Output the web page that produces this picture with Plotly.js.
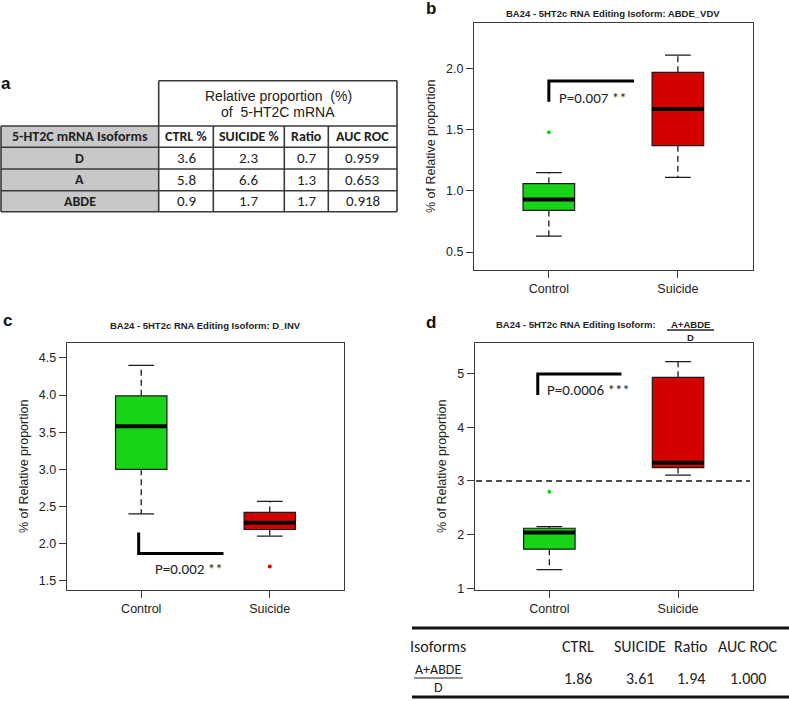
<!DOCTYPE html>
<html>
<head>
<meta charset="utf-8">
<script src="https://cdn.plot.ly/plotly-3.0.1.min.js"></script>
<style>
  html, body { margin: 0; padding: 0; background: #fff; }
  #plot { width: 789px; height: 701px; }
</style>
</head>
<body>
<div id="plot"></div>
<script>
const groups = ['Control', 'Suicide'];
const groupColors = ['#17d417', '#d40000'];

// panel b: ABDE_VDV
const abdeLow = [0.63, 1.11];
const abdeQ1 = [0.84, 1.37];
const abdeMed = [0.93, 1.67];
const abdeQ3 = [1.06, 1.97];
const abdeHigh = [1.15, 2.11];
const abdeOut = [[1.48], []];

// panel c: D_INV
const dinvLow = [2.40, 2.10];
const dinvQ1 = [3.00, 2.19];
const dinvMed = [3.58, 2.28];
const dinvQ3 = [3.99, 2.42];
const dinvHigh = [4.40, 2.57];
const dinvOut = [[], [1.69]];

// panel d: (A+ABDE)/D
const ratioLow = [1.35, 3.11];
const ratioQ1 = [1.73, 3.25];
const ratioMed = [2.04, 3.34];
const ratioQ3 = [2.12, 4.93];
const ratioHigh = [2.15, 5.22];
const ratioOut = [[2.80], []];
const ratioCut = 3;

// p-value brackets: [x start, x end, y at end, y of bar]
const pTexts = ['P=0.007 **', 'P=0.002 **', 'P=0.0006 ***'];
const brackets = [[1.0, 1.66, 1.73, 1.90], [0.98, 1.64, 2.15, 1.865], [0.91, 1.56, 4.60, 4.99]];
const pTextPos = [[1.06, 1.76], [1.09, 1.66], [0.97, 4.70]];

// table a
const isoforms = ['D', 'A', 'ABDE'];
const ctrlPct = [3.6, 5.8, 0.9];
const suicidePct = [2.3, 6.6, 1.7];
const ratios = [0.7, 1.3, 1.7];
const aucRoc = [0.959, 0.653, 0.918];
const tableHead = ['5-HT2C mRNA Isoforms', 'CTRL %', 'SUICIDE %', 'Ratio', 'AUC ROC'];

// table under d
const sumHead = ['Isoforms', 'CTRL', 'SUICIDE', 'Ratio', 'AUC ROC'];
const sumVals = ['1.86', '3.61', '1.94', '1.000'];

const W = 789, H = 701;
const px = x => x / W;
const py = y => 1 - y / H;
const arial = 'Liberation Sans, Arial, sans-serif';
const calibri = 'Carlito, Lato, sans-serif';

function panelTraces(st, xa, ya) {
  const tr = [];
  groups.forEach((g, i) => {
    const pos = i + 1;
    tr.push({
      type: 'box', x: [pos], q1: [st.q1[i]], median: [st.med[i]], q3: [st.q3[i]],
      lowerfence: [st.q1[i]], upperfence: [st.q3[i]], width: 0.4, whiskerwidth: 0,
      fillcolor: groupColors[i], line: {color: '#1a1a1a', width: 1.2},
      xaxis: xa, yaxis: ya, hoverinfo: 'skip', showlegend: false
    });
    tr.push({
      type: 'scatter', mode: 'lines', xaxis: xa, yaxis: ya, hoverinfo: 'skip', showlegend: false,
      x: [pos, pos, null, pos, pos], y: [st.q3[i], st.high[i], null, st.q1[i], st.low[i]],
      line: {color: '#1a1a1a', width: 1.3, dash: '6px,4px'}
    });
    tr.push({
      type: 'scatter', mode: 'lines', xaxis: xa, yaxis: ya, hoverinfo: 'skip', showlegend: false,
      x: [pos - 0.1, pos + 0.1, null, pos - 0.1, pos + 0.1],
      y: [st.high[i], st.high[i], null, st.low[i], st.low[i]],
      line: {color: '#1a1a1a', width: 1.3}
    });
    tr.push({
      type: 'scatter', mode: 'lines', xaxis: xa, yaxis: ya, hoverinfo: 'skip', showlegend: false,
      x: [pos - 0.2, pos + 0.2], y: [st.med[i], st.med[i]],
      line: {color: '#000', width: 4}
    });
    if (st.out[i].length) {
      tr.push({
        type: 'scatter', mode: 'markers', xaxis: xa, yaxis: ya, hoverinfo: 'skip', showlegend: false,
        x: st.out[i].map(() => pos), y: st.out[i],
        marker: {color: groupColors[i], size: 4}
      });
    }
  });
  return tr;
}

function bracketTrace(k, xa, ya) {
  const b = brackets[k];
  return {
    type: 'scatter', mode: 'lines', xaxis: xa, yaxis: ya, hoverinfo: 'skip', showlegend: false,
    x: [b[0], b[0], b[1]], y: [b[2], b[3], b[3]],
    line: {color: '#000', width: 3}
  };
}

const traces = [
  ...panelTraces({low: abdeLow, q1: abdeQ1, med: abdeMed, q3: abdeQ3, high: abdeHigh, out: abdeOut}, 'x', 'y'),
  ...panelTraces({low: dinvLow, q1: dinvQ1, med: dinvMed, q3: dinvQ3, high: dinvHigh, out: dinvOut}, 'x2', 'y2'),
  ...panelTraces({low: ratioLow, q1: ratioQ1, med: ratioMed, q3: ratioQ3, high: ratioHigh, out: ratioOut}, 'x3', 'y3'),
  bracketTrace(0, 'x', 'y'), bracketTrace(1, 'x2', 'y2'), bracketTrace(2, 'x3', 'y3')
];

const axisBase = {
  showline: true, mirror: true, linecolor: '#3a3a3a', linewidth: 1,
  ticks: 'outside', ticklen: 7, tickcolor: '#3a3a3a', tickwidth: 1,
  showgrid: false, zeroline: false, fixedrange: true,
  tickfont: {family: arial, size: 12.5, color: '#222'}
};
const xBase = Object.assign({}, axisBase, {range: [0.42, 2.58], tickvals: [1, 2], ticktext: groups});
const yTitle = {text: '% of Relative proportion', font: {family: arial, size: 12.5, color: '#222'}, standoff: 7};

const layout = {
  width: W, height: H,
  margin: {l: 0, r: 0, t: 0, b: 0},
  paper_bgcolor: '#fff', plot_bgcolor: '#fff',
  showlegend: false,
  xaxis: Object.assign({}, xBase, {domain: [px(474), px(752.7)], anchor: 'y'}),
  yaxis: Object.assign({}, axisBase, {domain: [py(270), py(22.7)], anchor: 'x', range: [0.353, 2.376],
    tickvals: [0.5, 1, 1.5, 2], tickformat: '.1f', title: yTitle}),
  xaxis2: Object.assign({}, xBase, {domain: [px(66.7), px(344.3)], anchor: 'y2'}),
  yaxis2: Object.assign({}, axisBase, {domain: [py(590), py(342.7)], anchor: 'x2', range: [1.375, 4.706],
    dtick: 0.5, tickformat: '.1f', title: yTitle}),
  xaxis3: Object.assign({}, xBase, {domain: [px(474.7), px(752.7)], anchor: 'y3'}),
  yaxis3: Object.assign({}, axisBase, {domain: [py(590), py(342.7)], anchor: 'x3', range: [0.97, 5.574],
    dtick: 1, title: yTitle}),
  shapes: [],
  annotations: []
};

const ann = (text, x, y, opt) => layout.annotations.push(Object.assign({
  text: text, x: px(x), y: py(y), xref: 'paper', yref: 'paper', showarrow: false,
  xanchor: 'center', yanchor: 'middle', font: {family: arial, size: 12, color: '#222'}
}, opt || {}));
const hline = (x0, x1, y, w, c) => layout.shapes.push({type: 'line', xref: 'paper', yref: 'paper',
  x0: px(x0), x1: px(x1), y0: py(y), y1: py(y), line: {color: c || '#3a3a3a', width: w}});
const vline = (x, y0, y1, w, c) => layout.shapes.push({type: 'line', xref: 'paper', yref: 'paper',
  x0: px(x), x1: px(x), y0: py(y0), y1: py(y1), line: {color: c || '#3a3a3a', width: w}});

// panel labels
const labelFont = {family: arial, size: 17, color: '#111', weight: 'bold'};
ann('a', 6, 83, {font: labelFont});
ann('b', 431, 8, {font: labelFont});
ann('c', 7, 320, {font: labelFont});
ann('d', 431, 322, {font: labelFont});

// panel titles
const titleFont = {family: arial, size: 9.5, color: '#222', weight: 'bold'};
ann('BA24 - 5HT2c RNA Editing Isoform: ABDE_VDV', 613, 13, {font: titleFont});
ann('BA24 - 5HT2c RNA Editing Isoform: D_INV', 205.5, 325, {font: titleFont});
ann('BA24 - 5HT2c RNA Editing Isoform:', 658, 324, {font: titleFont, xanchor: 'right'});
ann('A+ABDE', 690.5, 324, {font: titleFont});
hline(667, 714, 330, 1.3, '#222');
ann('D', 690.5, 337, {font: titleFont});

// p-values
const pFont = {family: calibri, size: 15, color: '#222'};
const pAxes = [['x', 'y'], ['x2', 'y2'], ['x3', 'y3']];
pTexts.forEach((t, k) => layout.annotations.push({
  text: t, x: pTextPos[k][0], y: pTextPos[k][1], xref: pAxes[k][0], yref: pAxes[k][1],
  showarrow: false, xanchor: 'left', yanchor: 'middle', font: pFont
}));

// threshold in d
layout.shapes.push({type: 'line', xref: 'x3 domain', yref: 'y3', x0: 0.005, x1: 0.99, y0: ratioCut, y1: ratioCut,
  line: {color: '#111', width: 1.5, dash: '6px,4px'}});

// table a
const colEdges = [1, 158.7, 213.3, 284.3, 328.3, 397];
const rowEdges = [126, 147.3, 169, 190.7, 211.7];
layout.shapes.push({type: 'rect', xref: 'paper', yref: 'paper', layer: 'below',
  x0: px(colEdges[0]), x1: px(colEdges[1]), y0: py(rowEdges[4]), y1: py(rowEdges[0]),
  fillcolor: '#c8c8c8', line: {width: 0}});
rowEdges.forEach(y => hline(colEdges[0], colEdges[5], y, 1.6));
colEdges.forEach(x => vline(x, rowEdges[0], rowEdges[4], 1.6));
hline(colEdges[1], colEdges[5], 80.7, 1.6);
vline(colEdges[1], 80.7, rowEdges[0], 1.6);
vline(colEdges[5], 80.7, rowEdges[0], 1.6);
ann('Relative proportion  (%)', 278, 96, {font: {family: arial, size: 14, color: '#222'}});
ann('of  5-HT2C mRNA', 278, 112, {font: {family: arial, size: 14, color: '#222'}});

const cellFont = {family: calibri, size: 15, color: '#222'};
const cellBold = {family: calibri, size: 14, color: '#222', weight: 'bold'};
const colMid = i => (colEdges[i] + colEdges[i + 1]) / 2;
const rowMid = i => (rowEdges[i] + rowEdges[i + 1]) / 2;
tableHead.forEach((h, j) => ann(h, colMid(j), rowMid(0), {font: cellBold}));
isoforms.forEach((iso, i) => {
  ann(iso, colMid(0), rowMid(i + 1), {font: cellBold});
  ann(ctrlPct[i].toFixed(1), colMid(1), rowMid(i + 1), {font: cellFont});
  ann(suicidePct[i].toFixed(1), colMid(2), rowMid(i + 1), {font: cellFont});
  ann(ratios[i].toFixed(1), colMid(3), rowMid(i + 1), {font: cellFont});
  ann(aucRoc[i].toFixed(3), colMid(4), rowMid(i + 1), {font: cellFont});
});

// table under d
const sumX = [578, 640, 691, 748];
const sumFont = {family: calibri, size: 16, color: '#222'};
const fracFont = {family: calibri, size: 14, color: '#222'};
hline(412, 789, 628, 3, '#111');
hline(412, 789, 697, 3, '#111');
ann(sumHead[0], 408, 646, {font: sumFont, xanchor: 'left'});
sumHead.slice(1).forEach((h, j) => ann(h, sumX[j], 646, {font: sumFont}));
ann('A+ABDE', 438, 669.5, {font: fracFont});
hline(414, 463, 678, 1.2, '#222');
ann('D', 438, 687.5, {font: fracFont});
sumVals.forEach((v, j) => ann(v, sumX[j], 678, {font: sumFont}));

Plotly.newPlot('plot', traces, layout, {staticPlot: true});
</script>
</body>
</html>
